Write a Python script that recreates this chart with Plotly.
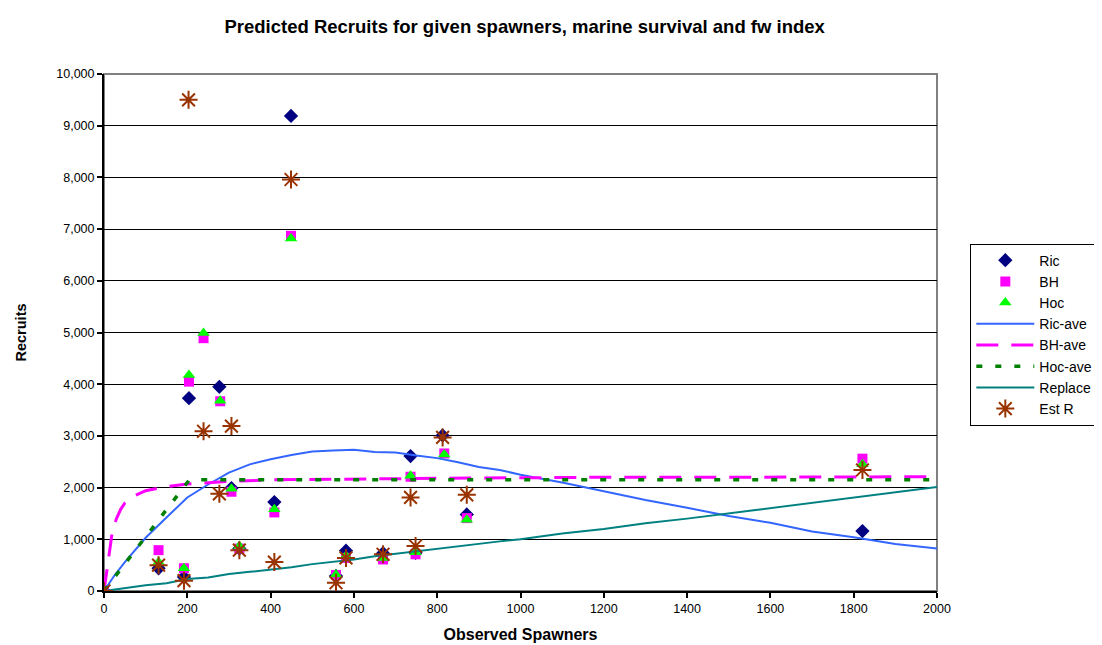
import plotly.graph_objects as go

# ---- observed spawners and predicted recruits ----
ric_x = [0, 131, 192, 204, 277, 306, 325, 409, 449, 557, 581, 670, 736, 748, 813, 871, 1821]
ric_y = [0, 440, 270, 3730, 3950, 1990, 820, 1720, 9190, 290, 780, 730, 2610, 740, 3010, 1480, 1160]

bh_x = [0, 131, 192, 204, 239, 279, 306, 325, 409, 449, 557, 581, 670, 736, 748, 817, 871, 1821]
bh_y = [0, 790, 440, 4050, 4890, 3670, 1920, 820, 1520, 6870, 310, 640, 610, 2210, 710, 2660, 1410, 2560]

hoc_x = [0, 131, 192, 204, 239, 279, 306, 325, 409, 449, 557, 581, 670, 736, 748, 817, 871, 1821]
hoc_y = [0, 560, 440, 4180, 4990, 3680, 1980, 870, 1580, 6820, 320, 680, 640, 2230, 750, 2640, 1380, 2450]

estr_x = [0, 131, 192, 203, 239, 277, 306, 325, 409, 449, 557, 581, 670, 736, 748, 813, 871, 1821]
estr_y = [0, 500, 200, 9500, 3090, 1880, 3190, 790, 560, 7960, 160, 640, 710, 1810, 870, 2970, 1860, 2340]

# ---- average curves ----
ricave_x = [0, 25, 50, 75, 100, 150, 200, 250, 300, 350, 400, 450, 500, 550, 600, 650, 700, 750,
            800, 850, 900, 950, 1000, 1100, 1200, 1300, 1400, 1500, 1600, 1700, 1800, 1900, 2000]
ricave_y = [0, 300, 560, 800, 1030, 1420, 1810, 2060, 2290, 2450, 2550, 2630, 2700, 2720, 2730, 2690, 2680, 2620,
            2570, 2490, 2400, 2340, 2250, 2100, 1930, 1760, 1610, 1450, 1320, 1150, 1040, 910, 820]

bhave_x = [0, 5, 10, 15, 20, 30, 40, 50, 75, 100, 150, 200, 300, 400, 500, 600, 800, 1000, 1200, 1500, 2000]
bhave_y = [0, 300, 650, 900, 1150, 1400, 1580, 1700, 1850, 1940, 2020, 2070, 2120, 2150, 2160, 2170, 2180, 2190, 2200, 2200, 2210]

hocave_x = [0, 50, 100, 150, 205, 400, 800, 1200, 1600, 2000]
hocave_y = [0, 530, 1060, 1590, 2150, 2150, 2150, 2150, 2150, 2150]

repl_x = [0, 50, 100, 150, 200, 250, 300, 350, 400, 450, 500, 550, 600, 650, 700, 750, 800, 850, 900, 950,
          1000, 1100, 1200, 1300, 1400, 1500, 1600, 1700, 1800, 1900, 2000]
repl_y = [0, 60, 110, 150, 230, 260, 330, 370, 410, 460, 520, 560, 610, 670, 720, 760, 820, 860, 920, 960,
          1000, 1110, 1200, 1310, 1400, 1500, 1600, 1700, 1800, 1910, 2010]

x_ticks = list(range(0, 2001, 200))
y_ticks = list(range(0, 10001, 1000))

FONT = "Arial, Liberation Sans, sans-serif"

fig = go.Figure()
fig.add_trace(go.Scatter(x=ric_x, y=ric_y, mode="markers", name="Ric",
                         marker=dict(symbol="diamond", size=11, color="#000080")))
fig.add_trace(go.Scatter(x=bh_x, y=bh_y, mode="markers", name="BH",
                         marker=dict(symbol="square", size=10, color="#FF00FF")))
fig.add_trace(go.Scatter(x=hoc_x, y=hoc_y, mode="markers", name="Hoc",
                         marker=dict(symbol="triangle-up", size=11, color="#00FF00")))
fig.add_trace(go.Scatter(x=ricave_x, y=ricave_y, mode="lines", name="Ric-ave",
                         line=dict(color="#3366FF", width=2)))
fig.add_trace(go.Scatter(x=bhave_x, y=bhave_y, mode="lines", name="BH-ave",
                         line=dict(color="#FF00FF", width=3, dash="22px,13px")))
fig.add_trace(go.Scatter(x=hocave_x, y=hocave_y, mode="lines", name="Hoc-ave",
                         line=dict(color="#008000", width=3.5, dash="6px,13px")))
fig.add_trace(go.Scatter(x=repl_x, y=repl_y, mode="lines", name="Replace",
                         line=dict(color="#008080", width=2)))
fig.add_trace(go.Scatter(x=estr_x, y=estr_y, mode="markers", name="Est R",
                         marker=dict(symbol="asterisk-open", size=15, color="#993300",
                                     line=dict(color="#993300", width=2))))

fig.update_layout(
    width=1102, height=645,
    paper_bgcolor="white", plot_bgcolor="white",
    margin=dict(l=96, r=164, t=66, b=57),
    font=dict(family=FONT, color="black", size=12),
    title=dict(text="<b>Predicted Recruits for given spawners, marine survival and fw index</b>",
               x=0.505, xanchor="center", xref="paper", y=0.972, yref="container", yanchor="middle",
               font=dict(size=18.5, family=FONT, color="black")),
    legend=dict(x=1.04, xanchor="left", y=0.672, yanchor="top",
                bgcolor="white", bordercolor="black", borderwidth=1,
                font=dict(size=14, family=FONT), itemwidth=58, tracegroupgap=0),
    showlegend=True,
)
fig.update_xaxes(range=[0, 2000], tickvals=x_ticks, ticks="outside", ticklen=5, tickwidth=2,
                 tickcolor="black", showline=True, linecolor="black", linewidth=2,
                 showgrid=False, zeroline=False,
                 title=dict(text="<b>Observed Spawners</b>", font=dict(size=16), standoff=14),
                 tickfont=dict(size=12.5))
fig.update_yaxes(range=[0, 10000], tickvals=y_ticks, tickformat=",", ticks="outside", ticklen=5,
                 tickwidth=2, tickcolor="black", showline=True, linecolor="black", linewidth=2,
                 showgrid=True, gridcolor="black", gridwidth=1, zeroline=False,
                 title=dict(text="<b>Recruits</b>", font=dict(size=14.5), standoff=26),
                 tickfont=dict(size=12.5))
# grey frame on top/right of plot area
fig.add_shape(type="rect", xref="paper", yref="paper", x0=0, y0=0, x1=1, y1=1,
              line=dict(color="#808080", width=2), layer="below")

fig.write_html("out.html")
